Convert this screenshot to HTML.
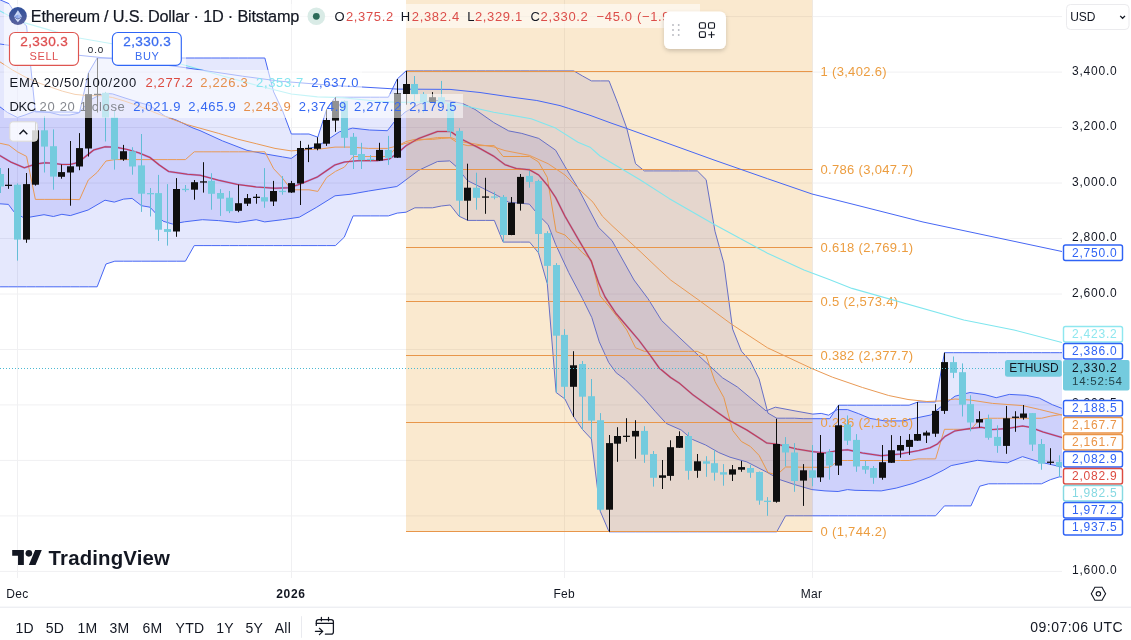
<!DOCTYPE html>
<html lang="en"><head><meta charset="utf-8"><title>ETHUSD chart</title>
<style>html,body{margin:0;padding:0;background:#fff;}svg{display:block;will-change:transform;}text{font-family:"Liberation Sans",sans-serif;}</style></head><body>
<svg width="1131" height="640" viewBox="0 0 1131 640">
<defs><clipPath id="plot"><rect x="0" y="0" width="1062" height="578"/></clipPath>
<filter id="sh" x="-20%" y="-20%" width="140%" height="160%"><feDropShadow dx="0" dy="2" stdDeviation="2" flood-color="#000" flood-opacity="0.18"/></filter>
<linearGradient id="ethg" x1="0" y1="0" x2="0" y2="1"><stop offset="0" stop-color="#2f4f99"/><stop offset="1" stop-color="#5a629e"/></linearGradient>
</defs>
<rect width="1131" height="640" fill="#fff"/>
<g stroke="#f0f0f2" stroke-width="1">
<line x1="0" y1="16.6" x2="1062" y2="16.6"/>
<line x1="0" y1="72.1" x2="1062" y2="72.1"/>
<line x1="0" y1="127.5" x2="1062" y2="127.5"/>
<line x1="0" y1="183" x2="1062" y2="183"/>
<line x1="0" y1="238.5" x2="1062" y2="238.5"/>
<line x1="0" y1="294" x2="1062" y2="294"/>
<line x1="0" y1="349.5" x2="1062" y2="349.5"/>
<line x1="0" y1="404.9" x2="1062" y2="404.9"/>
<line x1="0" y1="460.4" x2="1062" y2="460.4"/>
<line x1="0" y1="515.9" x2="1062" y2="515.9"/>
<line x1="0" y1="571.4" x2="1062" y2="571.4"/>
<line x1="17.5" y1="0" x2="17.5" y2="578"/>
<line x1="291.5" y1="0" x2="291.5" y2="578"/>
<line x1="564.5" y1="0" x2="564.5" y2="578"/>
<line x1="812.5" y1="0" x2="812.5" y2="578"/>
</g>
<g clip-path="url(#plot)">
<polygon points="-8.76,-4 0.07,-0.2 8.89,3.6 17.72,17 26.55,26 35.37,112 44.2,112 53.02,112 61.85,112 70.68,112 79.5,112.5 88.33,73.1 97.15,58 105.98,58 114.81,58 123.63,58 132.46,58 141.28,58 150.11,58 158.94,58 167.76,58 176.59,58 185.41,58 194.24,58 203.07,58 211.89,58 220.72,58 229.54,58 238.37,58 247.2,58 256.02,58 264.85,58 273.67,91.9 282.5,110.6 291.33,134 300.15,134 308.98,134 317.8,137.2 326.63,109.4 335.46,97.2 344.28,97.2 353.11,97.2 361.93,97.2 370.76,97.2 379.59,97.2 388.41,97.2 397.24,79 406.06,70.9 414.89,70.9 423.72,70.9 432.54,70.9 441.37,70.9 450.19,70.9 459.02,70.9 467.85,70.9 476.67,70.9 485.5,70.9 494.32,70.9 503.15,70.9 511.98,70.9 520.8,70.9 529.63,70.9 538.45,70.9 547.28,70.9 556.11,70.9 564.93,70.9 573.76,70.9 582.58,76 591.41,80.9 600.24,80.9 609.06,80.9 617.89,103.5 626.71,128.1 635.54,163.7 644.37,170.9 653.19,170.9 662.02,170.9 670.84,170.9 679.67,170.9 688.5,170.9 697.32,170.9 706.15,179.7 714.97,231.2 723.8,263.1 732.63,329.1 741.45,351.2 750.28,361 759.1,379 767.93,413.1 776.76,418.2 785.58,418.2 794.41,418.2 803.23,418.7 812.06,418.7 820.89,418.7 829.71,418.7 838.54,405.2 847.36,405.2 856.19,405.2 865.02,405.2 873.84,405.2 882.67,405.2 891.49,405.2 900.32,405.2 909.15,405.2 917.97,402 926.8,402 935.62,402 944.45,352.7 953.28,352.7 962.1,352.7 970.93,352.7 979.75,352.7 988.58,352.7 997.41,352.7 1006.23,352.7 1015.06,352.7 1023.88,352.7 1032.71,352.7 1041.54,352.7 1050.36,352.7 1059.19,352.7 1065,352.7 1065,476.9 1059.19,476.9 1050.36,479.7 1041.54,483.8 1032.71,483.8 1023.88,483.8 1015.06,483.8 1006.23,483.8 997.41,483.8 988.58,483.8 979.75,486.2 970.93,505.9 962.1,505.9 953.28,505.9 944.45,505.9 935.62,515.8 926.8,515.8 917.97,515.8 909.15,515.8 900.32,515.8 891.49,515.8 882.67,515.8 873.84,515.8 865.02,515.8 856.19,515.8 847.36,515.8 838.54,515.8 829.71,515.8 820.89,515.8 812.06,515.8 803.23,515.8 794.41,515.8 785.58,515.8 776.76,531.8 767.93,531.8 759.1,531.8 750.28,531.8 741.45,531.8 732.63,531.8 723.8,531.8 714.97,531.8 706.15,531.8 697.32,531.8 688.5,531.8 679.67,531.8 670.84,531.8 662.02,531.8 653.19,531.8 644.37,531.8 635.54,531.8 626.71,531.8 617.89,531.8 609.06,531.8 600.24,511.2 591.41,439 582.58,429.6 573.76,416.9 564.93,399 556.11,392.5 547.28,283.7 538.45,252.8 529.63,242.1 520.8,242.1 511.98,242.1 503.15,242.1 494.32,220.4 485.5,220.4 476.67,220.4 467.85,220.4 459.02,216.2 450.19,205 441.37,206 432.54,207.8 423.72,207.8 414.89,207.8 406.06,212.2 397.24,213.1 388.41,215.9 379.59,215.9 370.76,215.9 361.93,215.9 353.11,215.9 344.28,237.2 335.46,245.6 326.63,245.6 317.8,245.6 308.98,245.6 300.15,245.6 291.33,245.6 282.5,245.6 273.67,245.6 264.85,245.6 256.02,245.6 247.2,245.6 238.37,245.6 229.54,245.6 220.72,245.6 211.89,245.6 203.07,245.6 194.24,245.6 185.41,261.2 176.59,261.2 167.76,261.2 158.94,261.2 150.11,261.2 141.28,261.2 132.46,261.2 123.63,261.2 114.81,261.2 105.98,264 97.15,286.8 88.33,286.8 79.5,286.8 70.68,286.8 61.85,286.8 53.02,286.8 44.2,286.8 35.37,286.8 26.55,286.8 17.72,286.8 8.89,286.8 0.07,286.8 -8.76,286.8" fill="rgba(0,25,235,0.10)"/>
<polygon points="-5,104 0,106.9 7.5,112.5 17.5,117.5 25,115 35,111.2 50,112.5 60,115 70,115 78.7,113.1 83.7,107.5 90,100 97.5,96.2 105,93.4 112.5,93.9 125,98 141,103 150,105.5 165,116.2 176.2,120 193,128 200,130.6 222.5,140.9 246.9,150.3 265.6,154 282.5,156.9 291.3,158.4 297.5,154 307.8,148.4 317.2,146.6 329.3,138.6 339.4,131.8 352.5,128.1 369.4,130 387.4,130.7 394.9,121 402.4,114.6 405,112.2 420,103.7 431.2,100.4 450,100.9 463.1,103.7 475,109.4 493.7,122.5 508.7,130.9 521.8,133.4 538.7,138.4 555.6,150.2 565,166.5 578,188.1 598.7,227.5 612,240.6 634,280 648,298.7 661.6,320.5 678,336.2 698,355 722.5,377.8 737.4,387 766,410.9 775.3,407.2 795,410.9 812.8,414.1 821.2,413.4 828.7,415.2 837.2,409.6 847.5,409.6 858.7,413.7 870,418.4 885,420.9 902.8,420.9 908,419.7 930.6,415 940,407.5 955,396.2 970,392.5 985,394.7 996.2,397.7 1009.3,394.4 1026.2,395.3 1039.3,398.1 1052.4,404.7 1062,408.4 1062,467.1 1039.3,461.8 1022.5,456.6 1007.5,462.8 992.5,461.8 977.5,460.3 951.2,465.6 943.1,470.3 930,476.9 913.1,483.4 896.2,488.1 881.2,490.9 855,490.3 847.5,489.6 838.1,491.5 825,490.9 811.9,489.6 795,484.7 780,479.7 766.9,472.2 746.8,461.9 730,457.2 718.7,452.5 705.6,445 692.4,439.4 681.2,430 666.2,423.4 655,411.2 643.7,398.1 625,379.4 616.2,372.8 608.7,362.5 599.3,341.9 591.8,317.5 582.5,298.7 568.7,272.5 555.6,244.4 548.1,224.7 538.7,215.3 529.3,204.1 508.7,202.2 497.5,195.6 482.5,188.1 467.5,180.6 456.2,166.5 449.7,160.9 437.5,161.5 418.7,170.3 400,184.3 396.8,186.5 368.7,191 350,194.3 335,195.8 316.2,207.5 299.3,217.2 282.5,219.7 264.7,221.9 256.2,219.7 237.5,222.5 218.7,220.6 202.4,219.7 184.6,221.8 172.4,224 163.1,221.2 150,207.2 141.5,205.7 132.1,198.4 123.7,199.1 114.3,202.1 105,200.2 88.1,210 70.3,215.6 61.9,214.3 53.4,216.5 44,214.7 30,217.1 22.5,217.1 14,211.9 8.4,204.4 0,203.8 -5,203.5" fill="rgba(9,12,233,0.10)"/>
<polyline points="-8.76,-4 0.07,-0.2 8.89,3.6 17.72,17 26.55,26 35.37,112 44.2,112 53.02,112 61.85,112 70.68,112 79.5,112.5 88.33,73.1 97.15,58 105.98,58 114.81,58 123.63,58 132.46,58 141.28,58 150.11,58 158.94,58 167.76,58 176.59,58 185.41,58 194.24,58 203.07,58 211.89,58 220.72,58 229.54,58 238.37,58 247.2,58 256.02,58 264.85,58 273.67,91.9 282.5,110.6 291.33,134 300.15,134 308.98,134 317.8,137.2 326.63,109.4 335.46,97.2 344.28,97.2 353.11,97.2 361.93,97.2 370.76,97.2 379.59,97.2 388.41,97.2 397.24,79 406.06,70.9 414.89,70.9 423.72,70.9 432.54,70.9 441.37,70.9 450.19,70.9 459.02,70.9 467.85,70.9 476.67,70.9 485.5,70.9 494.32,70.9 503.15,70.9 511.98,70.9 520.8,70.9 529.63,70.9 538.45,70.9 547.28,70.9 556.11,70.9 564.93,70.9 573.76,70.9 582.58,76 591.41,80.9 600.24,80.9 609.06,80.9 617.89,103.5 626.71,128.1 635.54,163.7 644.37,170.9 653.19,170.9 662.02,170.9 670.84,170.9 679.67,170.9 688.5,170.9 697.32,170.9 706.15,179.7 714.97,231.2 723.8,263.1 732.63,329.1 741.45,351.2 750.28,361 759.1,379 767.93,413.1 776.76,418.2 785.58,418.2 794.41,418.2 803.23,418.7 812.06,418.7 820.89,418.7 829.71,418.7 838.54,405.2 847.36,405.2 856.19,405.2 865.02,405.2 873.84,405.2 882.67,405.2 891.49,405.2 900.32,405.2 909.15,405.2 917.97,402 926.8,402 935.62,402 944.45,352.7 953.28,352.7 962.1,352.7 970.93,352.7 979.75,352.7 988.58,352.7 997.41,352.7 1006.23,352.7 1015.06,352.7 1023.88,352.7 1032.71,352.7 1041.54,352.7 1050.36,352.7 1059.19,352.7 1065,352.7" fill="none" stroke="#4767f4" stroke-width="1.0" stroke-opacity="1.0" stroke-linejoin="round"/>
<polyline points="-8.76,286.8 0.07,286.8 8.89,286.8 17.72,286.8 26.55,286.8 35.37,286.8 44.2,286.8 53.02,286.8 61.85,286.8 70.68,286.8 79.5,286.8 88.33,286.8 97.15,286.8 105.98,264 114.81,261.2 123.63,261.2 132.46,261.2 141.28,261.2 150.11,261.2 158.94,261.2 167.76,261.2 176.59,261.2 185.41,261.2 194.24,245.6 203.07,245.6 211.89,245.6 220.72,245.6 229.54,245.6 238.37,245.6 247.2,245.6 256.02,245.6 264.85,245.6 273.67,245.6 282.5,245.6 291.33,245.6 300.15,245.6 308.98,245.6 317.8,245.6 326.63,245.6 335.46,245.6 344.28,237.2 353.11,215.9 361.93,215.9 370.76,215.9 379.59,215.9 388.41,215.9 397.24,213.1 406.06,212.2 414.89,207.8 423.72,207.8 432.54,207.8 441.37,206 450.19,205 459.02,216.2 467.85,220.4 476.67,220.4 485.5,220.4 494.32,220.4 503.15,242.1 511.98,242.1 520.8,242.1 529.63,242.1 538.45,252.8 547.28,283.7 556.11,392.5 564.93,399 573.76,416.9 582.58,429.6 591.41,439 600.24,511.2 609.06,531.8 617.89,531.8 626.71,531.8 635.54,531.8 644.37,531.8 653.19,531.8 662.02,531.8 670.84,531.8 679.67,531.8 688.5,531.8 697.32,531.8 706.15,531.8 714.97,531.8 723.8,531.8 732.63,531.8 741.45,531.8 750.28,531.8 759.1,531.8 767.93,531.8 776.76,531.8 785.58,515.8 794.41,515.8 803.23,515.8 812.06,515.8 820.89,515.8 829.71,515.8 838.54,515.8 847.36,515.8 856.19,515.8 865.02,515.8 873.84,515.8 882.67,515.8 891.49,515.8 900.32,515.8 909.15,515.8 917.97,515.8 926.8,515.8 935.62,515.8 944.45,505.9 953.28,505.9 962.1,505.9 970.93,505.9 979.75,486.2 988.58,483.8 997.41,483.8 1006.23,483.8 1015.06,483.8 1023.88,483.8 1032.71,483.8 1041.54,483.8 1050.36,479.7 1059.19,476.9 1065,476.9" fill="none" stroke="#4767f4" stroke-width="1.0" stroke-opacity="1.0" stroke-linejoin="round"/>
<polyline points="-5,104 0,106.9 7.5,112.5 17.5,117.5 25,115 35,111.2 50,112.5 60,115 70,115 78.7,113.1 83.7,107.5 90,100 97.5,96.2 105,93.4 112.5,93.9 125,98 141,103 150,105.5 165,116.2 176.2,120 193,128 200,130.6 222.5,140.9 246.9,150.3 265.6,154 282.5,156.9 291.3,158.4 297.5,154 307.8,148.4 317.2,146.6 329.3,138.6 339.4,131.8 352.5,128.1 369.4,130 387.4,130.7 394.9,121 402.4,114.6 405,112.2 420,103.7 431.2,100.4 450,100.9 463.1,103.7 475,109.4 493.7,122.5 508.7,130.9 521.8,133.4 538.7,138.4 555.6,150.2 565,166.5 578,188.1 598.7,227.5 612,240.6 634,280 648,298.7 661.6,320.5 678,336.2 698,355 722.5,377.8 737.4,387 766,410.9 775.3,407.2 795,410.9 812.8,414.1 821.2,413.4 828.7,415.2 837.2,409.6 847.5,409.6 858.7,413.7 870,418.4 885,420.9 902.8,420.9 908,419.7 930.6,415 940,407.5 955,396.2 970,392.5 985,394.7 996.2,397.7 1009.3,394.4 1026.2,395.3 1039.3,398.1 1052.4,404.7 1062,408.4" fill="none" stroke="#4767f4" stroke-width="1.0" stroke-opacity="1.0" stroke-linejoin="round"/>
<polyline points="-5,203.5 0,203.8 8.4,204.4 14,211.9 22.5,217.1 30,217.1 44,214.7 53.4,216.5 61.9,214.3 70.3,215.6 88.1,210 105,200.2 114.3,202.1 123.7,199.1 132.1,198.4 141.5,205.7 150,207.2 163.1,221.2 172.4,224 184.6,221.8 202.4,219.7 218.7,220.6 237.5,222.5 256.2,219.7 264.7,221.9 282.5,219.7 299.3,217.2 316.2,207.5 335,195.8 350,194.3 368.7,191 396.8,186.5 400,184.3 418.7,170.3 437.5,161.5 449.7,160.9 456.2,166.5 467.5,180.6 482.5,188.1 497.5,195.6 508.7,202.2 529.3,204.1 538.7,215.3 548.1,224.7 555.6,244.4 568.7,272.5 582.5,298.7 591.8,317.5 599.3,341.9 608.7,362.5 616.2,372.8 625,379.4 643.7,398.1 655,411.2 666.2,423.4 681.2,430 692.4,439.4 705.6,445 718.7,452.5 730,457.2 746.8,461.9 766.9,472.2 780,479.7 795,484.7 811.9,489.6 825,490.9 838.1,491.5 847.5,489.6 855,490.3 881.2,490.9 896.2,488.1 913.1,483.4 930,476.9 943.1,470.3 951.2,465.6 977.5,460.3 992.5,461.8 1007.5,462.8 1022.5,456.6 1039.3,461.8 1062,467.1" fill="none" stroke="#4767f4" stroke-width="1.0" stroke-opacity="1.0" stroke-linejoin="round"/>
<polyline points="-8.76,141.4 0.07,143.3 8.89,145.2 17.72,151.9 26.55,156.4 35.37,199.4 44.2,199.4 53.02,199.4 61.85,199.4 70.68,199.4 79.5,199.65 88.33,179.95 97.15,172.4 105.98,161 114.81,159.6 123.63,159.6 132.46,159.6 141.28,159.6 150.11,159.6 158.94,159.6 167.76,159.6 176.59,159.6 185.41,159.6 194.24,151.8 203.07,151.8 211.89,151.8 220.72,151.8 229.54,151.8 238.37,151.8 247.2,151.8 256.02,151.8 264.85,151.8 273.67,168.75 282.5,178.1 291.33,189.8 300.15,189.8 308.98,189.8 317.8,191.4 326.63,177.5 335.46,171.4 344.28,167.2 353.11,156.55 361.93,156.55 370.76,156.55 379.59,156.55 388.41,156.55 397.24,146.05 406.06,141.55 414.89,139.35 423.72,139.35 432.54,139.35 441.37,138.45 450.19,137.95 459.02,143.55 467.85,145.65 476.67,145.65 485.5,145.65 494.32,145.65 503.15,156.5 511.98,156.5 520.8,156.5 529.63,156.5 538.45,161.85 547.28,177.3 556.11,231.7 564.93,234.95 573.76,243.9 582.58,252.8 591.41,259.95 600.24,296.05 609.06,306.35 617.89,317.65 626.71,329.95 635.54,347.75 644.37,351.35 653.19,351.35 662.02,351.35 670.84,351.35 679.67,351.35 688.5,351.35 697.32,351.35 706.15,355.75 714.97,381.5 723.8,397.45 732.63,430.45 741.45,441.5 750.28,446.4 759.1,455.4 767.93,472.45 776.76,475 785.58,467 794.41,467 803.23,467.25 812.06,467.25 820.89,467.25 829.71,467.25 838.54,460.5 847.36,460.5 856.19,460.5 865.02,460.5 873.84,460.5 882.67,460.5 891.49,460.5 900.32,460.5 909.15,460.5 917.97,458.9 926.8,458.9 935.62,458.9 944.45,429.3 953.28,429.3 962.1,429.3 970.93,429.3 979.75,419.45 988.58,418.25 997.41,418.25 1006.23,418.25 1015.06,418.25 1023.88,418.25 1032.71,418.25 1041.54,418.25 1050.36,416.2 1059.19,414.8 1065,414.8" fill="none" stroke="#e99a56" stroke-width="1.0" stroke-opacity="1.0" stroke-linejoin="round"/>
<polyline points="-5,153 0,155.6 11.2,162.2 24.4,167.8 35.6,164 45,162.8 53,163.3 61.9,164.4 70,164.4 75,163.3 79.7,161.4 84.3,157.5 93.7,150 105,146.8 116.2,147.2 127.5,149.6 138.7,152.8 150,157.5 159.3,165 168.7,171.5 187.4,174.3 200,175.2 218.7,180.3 237.5,184.4 256.2,186.9 275,188.2 288.1,187.8 297.5,185 307.8,180.9 317.2,177.1 327.5,170 335,164.9 344.3,162.1 359.3,160.6 378.1,160.6 389.3,159.1 398.7,152.2 406.2,145.6 418.7,138.4 437.5,131.5 450.6,131.5 461.9,139.4 478.7,147.8 493.7,156.2 505,164.7 516.2,168.4 529.3,169.7 538.7,175 548.1,186.2 555.6,197.5 565,216.2 578,238.7 591.2,261.2 598.7,283 605,296.9 616.2,313.7 627.5,326.9 638.7,340 650,355 659.3,368.1 670.6,377.5 679.3,383.1 692.4,394.4 709.3,406.6 728,419.7 746.8,430 766.9,443.1 776.2,444 796.9,449.1 811.9,451.5 825,453 838.1,450.6 847.5,449.7 862.5,453 881.2,455.7 900,454 918.7,450.6 930,447.8 937.4,444 944.9,436.5 955,430.9 970,428.5 981.2,427.2 992.5,429.6 1007.5,428.5 1022.5,425.9 1030,427.2 1043,431.9 1062,437.5" fill="none" stroke="#7a50d0" stroke-width="1.9" stroke-opacity="0.5" stroke-linejoin="round"/>
<rect x="406" y="-5" width="406.4" height="536.5" fill="rgba(230,145,15,0.20)"/>
<g stroke="#e8964a" stroke-width="1">
<line x1="406" y1="71.5" x2="812.4" y2="71.5"/>
<line x1="406" y1="169.5" x2="812.4" y2="169.5"/>
<line x1="406" y1="247.5" x2="812.4" y2="247.5"/>
<line x1="406" y1="301.5" x2="812.4" y2="301.5"/>
<line x1="406" y1="355.5" x2="812.4" y2="355.5"/>
<line x1="406" y1="422.5" x2="812.4" y2="422.5"/>
<line x1="406" y1="531.5" x2="812.4" y2="531.5"/>
</g>
<g font-size="13" fill="#ec9d40" letter-spacing="0.32">
<text x="820.5" y="76.1">1 (3,402.6)</text>
<text x="820.5" y="174.1">0.786 (3,047.7)</text>
<text x="820.5" y="252.1">0.618 (2,769.1)</text>
<text x="820.5" y="306.1">0.5 (2,573.4)</text>
<text x="820.5" y="360.1">0.382 (2,377.7)</text>
<text x="820.5" y="427.1">0.236 (2,135.6)</text>
<text x="820.5" y="536.1">0 (1,744.2)</text>
</g>
<polyline points="-5,8.5 0,10.9 8,15.2 24,22.6 56,31.9 79,38 112,43.8 180.6,64 223.7,76.2 261.2,86.5 291.2,94 317.4,96.9 342,97.6 375,101 397.5,102.4 437.5,102 460,104.7 493.7,112.2 531.2,118.7 555.6,128.1 578,142.2 590,147.2 600,156 640,179.7 669,198.4 713,223.7 767.5,253.2 804,270 829.3,279.4 852,288.4 963.8,320 1014,330 1062,342.5" fill="none" stroke="#7fe6ee" stroke-width="1.1" stroke-opacity="1.0" stroke-linejoin="round"/>
<polyline points="-5,43.3 0,44 79,55.3 130,60.5 186.2,67.8 242.5,76.2 280,81.2 317.4,84.2 342,86 362,87 397.5,89.1 450,89.4 480,92.5 512,97.2 536.8,100.5 560,105.6 568.7,108.4 590,115.3 612,123.4 626.5,128.4 668,143.4 714,160 767.5,178.7 812,194 852,204 923,222 1062,251.5" fill="none" stroke="#4767f4" stroke-width="1.0" stroke-opacity="1.0" stroke-linejoin="round"/>
<polyline points="-5,58.5 0,61.9 12.5,70 25,76.9 37.5,82.5 50,86.9 62.5,91.2 75,94.4 87.5,95.6 100,95.6 112.5,97.5 125,101.2 141,106.9 159.3,114.4 187.4,124.7 200,128.2 218.7,133.4 237.5,139.1 256.2,143.7 275,148.4 291.3,150.9 305,149.7 320,149 335,147.1 350,147.1 368.7,148.4 387.4,148.4 398.7,145.6 405,143.5 418.7,140.3 437.5,137.5 450.6,137.5 463.7,142.2 493.7,146.9 505,150.6 529.3,155.3 548.1,163.7 565,175 580,190 593,202.2 602.4,216.2 612,225.6 640,251.3 659.7,270 670.6,280 700,301 731.8,324.4 767.5,347.8 811.8,368.5 832.5,377.2 862.5,387.5 888.7,395.5 908,399.5 926.9,401.5 941.9,400.9 955,399 970,400 992.5,403.4 1022.5,405.6 1039.3,409.4 1062,415" fill="none" stroke="#e99a56" stroke-width="1.0" stroke-opacity="1.0" stroke-linejoin="round"/>
<polyline points="-5,153 0,155.6 11.2,162.2 24.4,167.8 35.6,164 45,162.8 53,163.3 61.9,164.4 70,164.4 75,163.3 79.7,161.4 84.3,157.5 93.7,150 105,146.8 116.2,147.2 127.5,149.6 138.7,152.8 150,157.5 159.3,165 168.7,171.5 187.4,174.3 200,175.2 218.7,180.3 237.5,184.4 256.2,186.9 275,188.2 288.1,187.8 297.5,185 307.8,180.9 317.2,177.1 327.5,170 335,164.9 344.3,162.1 359.3,160.6 378.1,160.6 389.3,159.1 398.7,152.2 406.2,145.6 418.7,138.4 437.5,131.5 450.6,131.5 461.9,139.4 478.7,147.8 493.7,156.2 505,164.7 516.2,168.4 529.3,169.7 538.7,175 548.1,186.2 555.6,197.5 565,216.2 578,238.7 591.2,261.2 598.7,283 605,296.9 616.2,313.7 627.5,326.9 638.7,340 650,355 659.3,368.1 670.6,377.5 679.3,383.1 692.4,394.4 709.3,406.6 728,419.7 746.8,430 766.9,443.1 776.2,444 796.9,449.1 811.9,451.5 825,453 838.1,450.6 847.5,449.7 862.5,453 881.2,455.7 900,454 918.7,450.6 930,447.8 937.4,444 944.9,436.5 955,430.9 970,428.5 981.2,427.2 992.5,429.6 1007.5,428.5 1022.5,425.9 1030,427.2 1043,431.9 1062,437.5" fill="none" stroke="#c43a52" stroke-width="1.05" stroke-opacity="1.0" stroke-linejoin="round"/>
<g shape-rendering="auto">
<rect x="0" y="168" width="1" height="25" fill="#63bdd6"/>
<rect x="-3" y="174" width="7" height="12.5" fill="#74cbde"/>
<rect x="8" y="168.2" width="1" height="20.6" fill="#0f0f0f"/>
<rect x="5" y="184.7" width="7" height="1.3" fill="#0f0f0f"/>
<rect x="17" y="183.4" width="1" height="77.2" fill="#63bdd6"/>
<rect x="14" y="184.7" width="7" height="54.9" fill="#74cbde"/>
<rect x="26" y="173" width="1" height="69.8" fill="#0f0f0f"/>
<rect x="23" y="184.1" width="7" height="55.5" fill="#0f0f0f"/>
<rect x="35" y="122" width="1" height="63.6" fill="#0f0f0f"/>
<rect x="32" y="130.3" width="7" height="54.4" fill="#0f0f0f"/>
<rect x="44" y="116.2" width="1" height="56.3" fill="#63bdd6"/>
<rect x="41" y="130.3" width="7" height="16.3" fill="#74cbde"/>
<rect x="53" y="129.4" width="1" height="60.3" fill="#63bdd6"/>
<rect x="50" y="146.2" width="7" height="30.4" fill="#74cbde"/>
<rect x="61" y="164.6" width="1" height="14.1" fill="#0f0f0f"/>
<rect x="58" y="172.1" width="7" height="4.7" fill="#0f0f0f"/>
<rect x="70" y="141" width="1" height="64.7" fill="#0f0f0f"/>
<rect x="67" y="166.3" width="7" height="6.2" fill="#0f0f0f"/>
<rect x="79" y="133.1" width="1" height="37.1" fill="#0f0f0f"/>
<rect x="76" y="148.1" width="7" height="18.4" fill="#0f0f0f"/>
<rect x="88" y="73.1" width="1" height="83.4" fill="#0f0f0f"/>
<rect x="85" y="94.1" width="7" height="54.4" fill="#0f0f0f"/>
<rect x="97" y="58" width="1" height="54.5" fill="#0f0f0f"/>
<rect x="94" y="93.8" width="7" height="1.3" fill="#0f0f0f"/>
<rect x="105" y="91.9" width="1" height="49.6" fill="#63bdd6"/>
<rect x="102" y="92.8" width="7" height="24.7" fill="#74cbde"/>
<rect x="114" y="110.6" width="1" height="59" fill="#63bdd6"/>
<rect x="111" y="117.5" width="7" height="42" fill="#74cbde"/>
<rect x="123" y="144.9" width="1" height="15.9" fill="#0f0f0f"/>
<rect x="120" y="151.2" width="7" height="8.3" fill="#0f0f0f"/>
<rect x="132" y="147.2" width="1" height="27.5" fill="#63bdd6"/>
<rect x="129" y="151.3" width="7" height="15.2" fill="#74cbde"/>
<rect x="141" y="134" width="1" height="77.9" fill="#63bdd6"/>
<rect x="138" y="165.4" width="7" height="28.3" fill="#74cbde"/>
<rect x="150" y="188" width="1" height="28.5" fill="#63bdd6"/>
<rect x="147" y="193" width="7" height="1.3" fill="#74cbde"/>
<rect x="158" y="174.9" width="1" height="66" fill="#63bdd6"/>
<rect x="155" y="193.1" width="7" height="36.6" fill="#74cbde"/>
<rect x="167" y="184.1" width="1" height="61.5" fill="#63bdd6"/>
<rect x="164" y="229.1" width="7" height="2.8" fill="#74cbde"/>
<rect x="176" y="178.1" width="1" height="58.7" fill="#0f0f0f"/>
<rect x="173" y="189" width="7" height="42.5" fill="#0f0f0f"/>
<rect x="185" y="185" width="1" height="6.8" fill="#63bdd6"/>
<rect x="182" y="188.8" width="7" height="1.3" fill="#74cbde"/>
<rect x="194" y="180" width="1" height="19.7" fill="#0f0f0f"/>
<rect x="191" y="182.2" width="7" height="7.5" fill="#0f0f0f"/>
<rect x="203" y="162.2" width="1" height="30.4" fill="#0f0f0f"/>
<rect x="200" y="181.3" width="7" height="1.3" fill="#0f0f0f"/>
<rect x="211" y="173.2" width="1" height="36.5" fill="#63bdd6"/>
<rect x="208" y="180.9" width="7" height="12.9" fill="#74cbde"/>
<rect x="220" y="189.1" width="1" height="26.8" fill="#63bdd6"/>
<rect x="217" y="193" width="7" height="5.7" fill="#74cbde"/>
<rect x="229" y="191" width="1" height="22.1" fill="#63bdd6"/>
<rect x="226" y="197.7" width="7" height="13.5" fill="#74cbde"/>
<rect x="238" y="184.6" width="1" height="27.6" fill="#0f0f0f"/>
<rect x="235" y="203.2" width="7" height="7.6" fill="#0f0f0f"/>
<rect x="247" y="194" width="1" height="12" fill="#0f0f0f"/>
<rect x="244" y="198.1" width="7" height="5.6" fill="#0f0f0f"/>
<rect x="256" y="194" width="1" height="9.7" fill="#0f0f0f"/>
<rect x="253" y="196.7" width="7" height="1.3" fill="#0f0f0f"/>
<rect x="264" y="168.1" width="1" height="39.7" fill="#63bdd6"/>
<rect x="261" y="197.2" width="7" height="4.3" fill="#74cbde"/>
<rect x="273" y="180.9" width="1" height="25.1" fill="#0f0f0f"/>
<rect x="270" y="191" width="7" height="10.5" fill="#0f0f0f"/>
<rect x="282" y="176" width="1" height="18.7" fill="#63bdd6"/>
<rect x="279" y="190.8" width="7" height="1.3" fill="#74cbde"/>
<rect x="291" y="180.9" width="1" height="12" fill="#0f0f0f"/>
<rect x="288" y="183.1" width="7" height="9.4" fill="#0f0f0f"/>
<rect x="300" y="140.9" width="1" height="64.1" fill="#0f0f0f"/>
<rect x="297" y="148" width="7" height="35.5" fill="#0f0f0f"/>
<rect x="308" y="144.7" width="1" height="17.4" fill="#0f0f0f"/>
<rect x="305" y="147.9" width="7" height="1.3" fill="#0f0f0f"/>
<rect x="317" y="137.2" width="1" height="13.1" fill="#0f0f0f"/>
<rect x="314" y="143.4" width="7" height="5.4" fill="#0f0f0f"/>
<rect x="326" y="109.4" width="1" height="36.5" fill="#0f0f0f"/>
<rect x="323" y="120" width="7" height="23.7" fill="#0f0f0f"/>
<rect x="335" y="97.2" width="1" height="34.6" fill="#0f0f0f"/>
<rect x="332" y="100.9" width="7" height="19.7" fill="#0f0f0f"/>
<rect x="344" y="100.5" width="1" height="47.3" fill="#63bdd6"/>
<rect x="341" y="100.9" width="7" height="36.9" fill="#74cbde"/>
<rect x="353" y="133" width="1" height="36" fill="#63bdd6"/>
<rect x="350" y="136.8" width="7" height="18.2" fill="#74cbde"/>
<rect x="361" y="142.8" width="1" height="26.2" fill="#63bdd6"/>
<rect x="358" y="154" width="7" height="6.2" fill="#74cbde"/>
<rect x="370" y="155" width="1" height="7.1" fill="#63bdd6"/>
<rect x="367" y="158.8" width="7" height="1.3" fill="#74cbde"/>
<rect x="379" y="142.8" width="1" height="18.2" fill="#0f0f0f"/>
<rect x="376" y="149.9" width="7" height="10.7" fill="#0f0f0f"/>
<rect x="388" y="135.9" width="1" height="29" fill="#63bdd6"/>
<rect x="385" y="149.9" width="7" height="7.9" fill="#74cbde"/>
<rect x="397" y="79" width="1" height="78.9" fill="#0f0f0f"/>
<rect x="394" y="93.4" width="7" height="64.3" fill="#0f0f0f"/>
<rect x="406" y="70.9" width="1" height="33.8" fill="#0f0f0f"/>
<rect x="403" y="84" width="7" height="10" fill="#0f0f0f"/>
<rect x="414" y="76" width="1" height="24.9" fill="#63bdd6"/>
<rect x="411" y="84" width="7" height="10.4" fill="#74cbde"/>
<rect x="423" y="92.1" width="1" height="20.6" fill="#63bdd6"/>
<rect x="420" y="94" width="7" height="8.2" fill="#74cbde"/>
<rect x="432" y="92.1" width="1" height="10.4" fill="#0f0f0f"/>
<rect x="429" y="97.2" width="7" height="5" fill="#0f0f0f"/>
<rect x="441" y="80.9" width="1" height="25.1" fill="#63bdd6"/>
<rect x="438" y="97.2" width="7" height="6.5" fill="#74cbde"/>
<rect x="450" y="103.5" width="1" height="33.3" fill="#63bdd6"/>
<rect x="447" y="103.7" width="7" height="27.9" fill="#74cbde"/>
<rect x="459" y="128.1" width="1" height="88.1" fill="#63bdd6"/>
<rect x="456" y="130.9" width="7" height="69.8" fill="#74cbde"/>
<rect x="467" y="163.7" width="1" height="56.7" fill="#0f0f0f"/>
<rect x="464" y="187.7" width="7" height="13" fill="#0f0f0f"/>
<rect x="476" y="172.7" width="1" height="37" fill="#63bdd6"/>
<rect x="473" y="187.7" width="7" height="10.1" fill="#74cbde"/>
<rect x="485" y="177.8" width="1" height="36" fill="#0f0f0f"/>
<rect x="482" y="196.4" width="7" height="1.3" fill="#0f0f0f"/>
<rect x="494" y="191.8" width="1" height="7.5" fill="#63bdd6"/>
<rect x="491" y="196.4" width="7" height="1.3" fill="#74cbde"/>
<rect x="503" y="195" width="1" height="47.1" fill="#63bdd6"/>
<rect x="500" y="196.9" width="7" height="38.1" fill="#74cbde"/>
<rect x="511" y="197" width="1" height="38.2" fill="#0f0f0f"/>
<rect x="508" y="202.7" width="7" height="32.3" fill="#0f0f0f"/>
<rect x="520" y="174" width="1" height="36.6" fill="#0f0f0f"/>
<rect x="517" y="176.9" width="7" height="26.8" fill="#0f0f0f"/>
<rect x="529" y="170.9" width="1" height="16.8" fill="#63bdd6"/>
<rect x="526" y="175.9" width="7" height="6" fill="#74cbde"/>
<rect x="538" y="179.7" width="1" height="73.1" fill="#63bdd6"/>
<rect x="535" y="181" width="7" height="53" fill="#74cbde"/>
<rect x="547" y="231.2" width="1" height="52.5" fill="#63bdd6"/>
<rect x="544" y="233.1" width="7" height="32.8" fill="#74cbde"/>
<rect x="556" y="263.1" width="1" height="129.4" fill="#63bdd6"/>
<rect x="553" y="265" width="7" height="70.7" fill="#74cbde"/>
<rect x="564" y="329.1" width="1" height="69.9" fill="#63bdd6"/>
<rect x="561" y="334.9" width="7" height="51.9" fill="#74cbde"/>
<rect x="573" y="351.2" width="1" height="65.7" fill="#0f0f0f"/>
<rect x="570" y="365.3" width="7" height="21.5" fill="#0f0f0f"/>
<rect x="582" y="361" width="1" height="68.6" fill="#63bdd6"/>
<rect x="579" y="364" width="7" height="32.7" fill="#74cbde"/>
<rect x="591" y="379" width="1" height="60" fill="#63bdd6"/>
<rect x="588" y="396.2" width="7" height="24.4" fill="#74cbde"/>
<rect x="600" y="413.1" width="1" height="98.1" fill="#63bdd6"/>
<rect x="597" y="420.2" width="7" height="89.5" fill="#74cbde"/>
<rect x="609" y="435" width="1" height="96.8" fill="#0f0f0f"/>
<rect x="606" y="443.1" width="7" height="66.6" fill="#0f0f0f"/>
<rect x="617" y="427.2" width="1" height="34.6" fill="#0f0f0f"/>
<rect x="614" y="436" width="7" height="7.7" fill="#0f0f0f"/>
<rect x="626" y="418.2" width="1" height="23.6" fill="#0f0f0f"/>
<rect x="623" y="435.7" width="7" height="1.3" fill="#0f0f0f"/>
<rect x="635" y="420.2" width="1" height="38.5" fill="#0f0f0f"/>
<rect x="632" y="430.9" width="7" height="5.6" fill="#0f0f0f"/>
<rect x="644" y="426.2" width="1" height="36.6" fill="#63bdd6"/>
<rect x="641" y="430.9" width="7" height="23.8" fill="#74cbde"/>
<rect x="653" y="451" width="1" height="35.6" fill="#63bdd6"/>
<rect x="650" y="454" width="7" height="23.8" fill="#74cbde"/>
<rect x="662" y="460" width="1" height="29" fill="#0f0f0f"/>
<rect x="659" y="475.3" width="7" height="2.5" fill="#0f0f0f"/>
<rect x="670" y="440.3" width="1" height="40.3" fill="#0f0f0f"/>
<rect x="667" y="447.2" width="7" height="28.7" fill="#0f0f0f"/>
<rect x="679" y="431.3" width="1" height="16.7" fill="#0f0f0f"/>
<rect x="676" y="436" width="7" height="11.8" fill="#0f0f0f"/>
<rect x="688" y="432.2" width="1" height="47.5" fill="#63bdd6"/>
<rect x="685" y="436" width="7" height="34.8" fill="#74cbde"/>
<rect x="697" y="454" width="1" height="23.8" fill="#0f0f0f"/>
<rect x="694" y="461.3" width="7" height="9.5" fill="#0f0f0f"/>
<rect x="706" y="456.2" width="1" height="20.6" fill="#63bdd6"/>
<rect x="703" y="461.3" width="7" height="2.4" fill="#74cbde"/>
<rect x="714" y="450.2" width="1" height="30.4" fill="#63bdd6"/>
<rect x="711" y="463.2" width="7" height="9.5" fill="#74cbde"/>
<rect x="723" y="464.1" width="1" height="21.6" fill="#63bdd6"/>
<rect x="720" y="472.2" width="7" height="2.4" fill="#74cbde"/>
<rect x="732" y="465" width="1" height="16" fill="#0f0f0f"/>
<rect x="729" y="469.3" width="7" height="5.3" fill="#0f0f0f"/>
<rect x="741" y="460.9" width="1" height="10.9" fill="#0f0f0f"/>
<rect x="738" y="467.1" width="7" height="2.6" fill="#0f0f0f"/>
<rect x="750" y="465" width="1" height="12.8" fill="#63bdd6"/>
<rect x="747" y="468" width="7" height="4.7" fill="#74cbde"/>
<rect x="759" y="471.5" width="1" height="33.2" fill="#63bdd6"/>
<rect x="756" y="472" width="7" height="28.6" fill="#74cbde"/>
<rect x="767" y="497.1" width="1" height="18.7" fill="#63bdd6"/>
<rect x="764" y="500.7" width="7" height="1.3" fill="#74cbde"/>
<rect x="776" y="418.7" width="1" height="84" fill="#0f0f0f"/>
<rect x="773" y="444" width="7" height="57.8" fill="#0f0f0f"/>
<rect x="785" y="437.1" width="1" height="29.4" fill="#63bdd6"/>
<rect x="782" y="444" width="7" height="8.5" fill="#74cbde"/>
<rect x="794" y="443.1" width="1" height="48.7" fill="#63bdd6"/>
<rect x="791" y="452.5" width="7" height="28.5" fill="#74cbde"/>
<rect x="803" y="464.1" width="1" height="41.8" fill="#0f0f0f"/>
<rect x="800" y="470.3" width="7" height="10.3" fill="#0f0f0f"/>
<rect x="812" y="445" width="1" height="41.2" fill="#63bdd6"/>
<rect x="809" y="470.3" width="7" height="7.5" fill="#74cbde"/>
<rect x="820" y="435" width="1" height="46.9" fill="#0f0f0f"/>
<rect x="817" y="453" width="7" height="24.4" fill="#0f0f0f"/>
<rect x="829" y="449.1" width="1" height="30.6" fill="#63bdd6"/>
<rect x="826" y="452.1" width="7" height="13.5" fill="#74cbde"/>
<rect x="838" y="405.2" width="1" height="69.8" fill="#0f0f0f"/>
<rect x="835" y="425.3" width="7" height="40.3" fill="#0f0f0f"/>
<rect x="847" y="415.4" width="1" height="29.6" fill="#63bdd6"/>
<rect x="844" y="424.4" width="7" height="16.3" fill="#74cbde"/>
<rect x="856" y="434.1" width="1" height="37.7" fill="#63bdd6"/>
<rect x="853" y="439.9" width="7" height="26.6" fill="#74cbde"/>
<rect x="865" y="460.9" width="1" height="12.8" fill="#63bdd6"/>
<rect x="862" y="466" width="7" height="3.7" fill="#74cbde"/>
<rect x="873" y="466" width="1" height="17.8" fill="#63bdd6"/>
<rect x="870" y="468" width="7" height="9.8" fill="#74cbde"/>
<rect x="882" y="445" width="1" height="34.7" fill="#0f0f0f"/>
<rect x="879" y="462.2" width="7" height="15.6" fill="#0f0f0f"/>
<rect x="891" y="435.1" width="1" height="27.9" fill="#0f0f0f"/>
<rect x="888" y="450.2" width="7" height="12.6" fill="#0f0f0f"/>
<rect x="900" y="436" width="1" height="21.7" fill="#0f0f0f"/>
<rect x="897" y="445" width="7" height="5.6" fill="#0f0f0f"/>
<rect x="909" y="434.1" width="1" height="20.8" fill="#0f0f0f"/>
<rect x="906" y="439.9" width="7" height="7" fill="#0f0f0f"/>
<rect x="917" y="402" width="1" height="39" fill="#0f0f0f"/>
<rect x="914" y="434" width="7" height="6.7" fill="#0f0f0f"/>
<rect x="926" y="430.7" width="1" height="12.3" fill="#0f0f0f"/>
<rect x="923" y="432.5" width="7" height="3.1" fill="#0f0f0f"/>
<rect x="935" y="404.2" width="1" height="32.7" fill="#0f0f0f"/>
<rect x="932" y="410.9" width="7" height="22.8" fill="#0f0f0f"/>
<rect x="944" y="352.7" width="1" height="61.2" fill="#0f0f0f"/>
<rect x="941" y="362.1" width="7" height="48.8" fill="#0f0f0f"/>
<rect x="953" y="356.5" width="1" height="21.6" fill="#63bdd6"/>
<rect x="950" y="362.1" width="7" height="10.7" fill="#74cbde"/>
<rect x="962" y="363.4" width="1" height="53.1" fill="#63bdd6"/>
<rect x="959" y="372.2" width="7" height="32.5" fill="#74cbde"/>
<rect x="970" y="395.3" width="1" height="36" fill="#63bdd6"/>
<rect x="967" y="404.1" width="7" height="18.4" fill="#74cbde"/>
<rect x="979" y="411.2" width="1" height="16.3" fill="#0f0f0f"/>
<rect x="976" y="419.1" width="7" height="3.4" fill="#0f0f0f"/>
<rect x="988" y="414.6" width="1" height="25.1" fill="#63bdd6"/>
<rect x="985" y="419.1" width="7" height="18.7" fill="#74cbde"/>
<rect x="997" y="425.3" width="1" height="27.5" fill="#63bdd6"/>
<rect x="994" y="436.9" width="7" height="9" fill="#74cbde"/>
<rect x="1006" y="406" width="1" height="47.8" fill="#0f0f0f"/>
<rect x="1003" y="418.3" width="7" height="27.6" fill="#0f0f0f"/>
<rect x="1015" y="411.2" width="1" height="20.6" fill="#0f0f0f"/>
<rect x="1012" y="416.6" width="7" height="1.3" fill="#0f0f0f"/>
<rect x="1023" y="405" width="1" height="14.7" fill="#0f0f0f"/>
<rect x="1020" y="413.5" width="7" height="4.3" fill="#0f0f0f"/>
<rect x="1032" y="413" width="1" height="38" fill="#63bdd6"/>
<rect x="1029" y="413.1" width="7" height="31.5" fill="#74cbde"/>
<rect x="1041" y="439" width="1" height="30.7" fill="#63bdd6"/>
<rect x="1038" y="444" width="7" height="19.7" fill="#74cbde"/>
<rect x="1050" y="448.2" width="1" height="16.5" fill="#0f0f0f"/>
<rect x="1047" y="461.6" width="7" height="1.3" fill="#0f0f0f"/>
<rect x="1059" y="455.3" width="1" height="21.6" fill="#63bdd6"/>
<rect x="1056" y="461.9" width="7" height="4.6" fill="#74cbde"/>
</g>
<line x1="0" y1="368.5" x2="1062" y2="368.5" stroke="#4bb9d2" stroke-width="1" stroke-dasharray="1 2"/>
</g>
<g transform="translate(12.2,546.67) scale(0.8333)" fill="#131722"><path d="M14 22H7V11H0V4h14v18zM28 22h-8l7.5-18h8L28 22z"/><circle cx="20" cy="8" r="4"/></g>
<text x="48.6" y="565" font-size="20.4" font-weight="700" fill="#131722" letter-spacing="0.16">TradingView</text>
<rect x="4" y="4" width="696" height="24" fill="#fff" fill-opacity="0.55"/>
<rect x="4" y="70" width="358" height="24" fill="#fff" fill-opacity="0.55"/>
<rect x="4" y="94" width="459" height="24" fill="#fff" fill-opacity="0.55"/>
<rect x="4" y="28" width="182" height="42" fill="#fff" fill-opacity="0.55"/>
<circle cx="17.9" cy="16" r="8.9" fill="url(#ethg)"/>
<g transform="translate(17.9,16.2)"><polygon points="0,-5.9 -4,0.2 0,2.4 4,0.2" fill="#cfdcf7"/><polygon points="0,-1.6 -4,0.2 0,2.4 4,0.2" fill="#8aa6ea"/><polygon points="0,-5.9 0,2.4 4,0.2" fill="#b4c6f2" fill-opacity="0.55"/><polygon points="-4,1.1 0,3.4 4,1.1 0,6" fill="#d5e0f8"/></g>
<text x="30.8" y="21.7" font-size="16.3" fill="#131722" stroke="#131722" stroke-width="0.2" letter-spacing="-0.2">Ethereum / U.S. Dollar · 1D · Bitstamp</text>
<circle cx="316.3" cy="16.3" r="8.8" fill="#d9ebe6"/>
<circle cx="316.3" cy="16.3" r="3.4" fill="#2c6a58"/>
<g font-size="13" letter-spacing="0.66">
<text x="334.6" y="21.3" fill="#131722">O</text>
<text x="345.9" y="21.3" fill="#dc4e4a">2,375.2</text>
<text x="400.8" y="21.3" fill="#131722">H</text>
<text x="411.8" y="21.3" fill="#dc4e4a">2,382.4</text>
<text x="467.2" y="21.3" fill="#131722">L</text>
<text x="474.9" y="21.3" fill="#dc4e4a">2,329.1</text>
<text x="530.4" y="21.3" fill="#131722">C</text>
<text x="540.5" y="21.3" fill="#dc4e4a">2,330.2</text>
<text x="596.5" y="21.3" fill="#dc4e4a">−45.0 (−1.91%)</text>
</g>
<rect x="9.5" y="32.5" width="69" height="32.9" rx="5.5" fill="#fff" stroke="#de5550" stroke-width="1.15"/>
<text x="44.2" y="46.3" font-size="13.6" stroke="#de4f50" stroke-width="0.28" fill="#de4f50" text-anchor="middle" letter-spacing="0.35">2,330.3</text>
<text x="44.2" y="60" font-size="11" fill="#de4f50" text-anchor="middle" letter-spacing="0.6">SELL</text>
<rect x="112.4" y="32.5" width="68.9" height="32.9" rx="5.5" fill="#fff" stroke="#2f66f6" stroke-width="1.15"/>
<text x="147.2" y="46.3" font-size="13.6" stroke="#3a6cf0" stroke-width="0.28" fill="#3a6cf0" text-anchor="middle" letter-spacing="0.35">2,330.3</text>
<text x="147.2" y="60" font-size="11" fill="#3a6cf0" text-anchor="middle" letter-spacing="0.6">BUY</text>
<text x="96" y="52.8" font-size="9.8" fill="#131722" text-anchor="middle" letter-spacing="0.9">0.0</text>
<g font-size="13" letter-spacing="0.66">
<text x="9.5" y="87" fill="#131722" letter-spacing="0.78">EMA 20/50/100/200</text>
<text x="145.4" y="87" fill="#dc4b41">2,277.2</text>
<text x="200.3" y="87" fill="#e58f4c">2,226.3</text>
<text x="256" y="87" fill="#86e5ef">2,353.7</text>
<text x="311.2" y="87" fill="#3568f2">2,637.0</text>
<text x="9.5" y="111" fill="#131722" letter-spacing="-0.35">DKC</text>
<text x="39.6" y="111" fill="#85888f" letter-spacing="0.66">20 20 1 close</text>
<text x="133.2" y="111" fill="#3568f2">2,021.9</text>
<text x="188.3" y="111" fill="#3568f2">2,465.9</text>
<text x="243.4" y="111" fill="#e58f4c">2,243.9</text>
<text x="298.8" y="111" fill="#3568f2">2,374.9</text>
<text x="354" y="111" fill="#3568f2">2,277.2</text>
<text x="409.2" y="111" fill="#3568f2">2,179.5</text>
</g>
<rect x="9.8" y="121.8" width="27.6" height="19.4" rx="3" fill="#fff" fill-opacity="0.82" stroke="#dedcd6" stroke-width="1"/>
<polyline points="19.5,134.3 23.4,130.2 27.3,134.3" fill="none" stroke="#131722" stroke-width="1.4"/>
<rect x="664" y="11.5" width="62" height="37.5" rx="6" fill="#fff" filter="url(#sh)"/>
<g fill="#b0b2ba">
<rect x="672.2" y="24.2" width="1.6" height="1.6"/>
<rect x="672.2" y="29.2" width="1.6" height="1.6"/>
<rect x="672.2" y="34.2" width="1.6" height="1.6"/>
<rect x="677.9" y="24.2" width="1.6" height="1.6"/>
<rect x="677.9" y="29.2" width="1.6" height="1.6"/>
<rect x="677.9" y="34.2" width="1.6" height="1.6"/>
</g>
<g fill="none" stroke="#131722" stroke-width="1.1"><rect x="699.4" y="22.7" width="6" height="5.6" rx="1.3"/><rect x="708.5" y="22.7" width="6" height="5.6" rx="1.3"/><rect x="699.4" y="31.8" width="6" height="5.6" rx="1.3"/><path d="M711.5 31.5v6.4M708.3 34.7h6.4"/></g>
<rect x="1062" y="0" width="69" height="607" fill="#fff"/>
<g font-size="12" fill="#131722" letter-spacing="0.78">
<text x="1072" y="74.9">3,400.0</text>
<text x="1072" y="130.3">3,200.0</text>
<text x="1072" y="185.8">3,000.0</text>
<text x="1072" y="241.3">2,800.0</text>
<text x="1072" y="296.8">2,600.0</text>
<text x="1072" y="574.2">1,600.0</text>
</g>
<rect x="1066.5" y="4.5" width="62.5" height="25" rx="4" fill="#fff" stroke="#ebebee" stroke-width="1"/>
<text x="1070.2" y="21.2" font-size="12" fill="#131722" letter-spacing="-0.1">USD</text>
<polyline points="1120.2,15.9 1122.6,18.3 1125,15.9" fill="none" stroke="#131722" stroke-width="1.3"/>
<text x="1072" y="407.2" font-size="12" fill="#131722" letter-spacing="0.78">2,203.5</text>
<rect x="1063.5" y="245.05" width="59" height="15.5" rx="2" fill="#fff" stroke="#2f63f5" stroke-width="1.45"/>
<text x="1072" y="256.8" font-size="12" fill="#2f63f5" letter-spacing="0.78">2,750.0</text>
<rect x="1063.5" y="326.55" width="59" height="15.5" rx="2" fill="#fff" stroke="#8ee7ef" stroke-width="1.45"/>
<text x="1072" y="338.3" font-size="12" fill="#8ee7ef" letter-spacing="0.78">2,423.2</text>
<rect x="1063.5" y="343.55" width="59" height="15.5" rx="2" fill="#fff" stroke="#2f63f5" stroke-width="1.45"/>
<text x="1072" y="355.3" font-size="12" fill="#2f63f5" letter-spacing="0.78">2,386.0</text>
<rect x="1063.5" y="400.5" width="59" height="15.5" rx="2" fill="#fff" stroke="#2f63f5" stroke-width="1.45"/>
<text x="1072" y="412.25" font-size="12" fill="#2f63f5" letter-spacing="0.78">2,188.5</text>
<rect x="1063.5" y="417.5" width="59" height="15.5" rx="2" fill="#fff" stroke="#ea9447" stroke-width="1.45"/>
<text x="1072" y="429.25" font-size="12" fill="#ea9447" letter-spacing="0.78">2,167.7</text>
<rect x="1063.5" y="434.5" width="59" height="15.5" rx="2" fill="#fff" stroke="#ea9447" stroke-width="1.45"/>
<text x="1072" y="446.25" font-size="12" fill="#ea9447" letter-spacing="0.78">2,161.7</text>
<rect x="1063.5" y="451.5" width="59" height="15.5" rx="2" fill="#fff" stroke="#2f63f5" stroke-width="1.45"/>
<text x="1072" y="463.25" font-size="12" fill="#2f63f5" letter-spacing="0.78">2,082.9</text>
<rect x="1063.5" y="468.5" width="59" height="15.5" rx="2" fill="#fff" stroke="#dc4b41" stroke-width="1.45"/>
<text x="1072" y="480.25" font-size="12" fill="#dc4b41" letter-spacing="0.78">2,082.9</text>
<rect x="1063.5" y="485.5" width="59" height="15.5" rx="2" fill="#fff" stroke="#86d9e2" stroke-width="1.45"/>
<text x="1072" y="497.25" font-size="12" fill="#86d9e2" letter-spacing="0.78">1,982.5</text>
<rect x="1063.5" y="502.5" width="59" height="15.5" rx="2" fill="#fff" stroke="#2f63f5" stroke-width="1.45"/>
<text x="1072" y="514.25" font-size="12" fill="#2f63f5" letter-spacing="0.78">1,977.2</text>
<rect x="1063.5" y="519.5" width="59" height="15.5" rx="2" fill="#fff" stroke="#2f63f5" stroke-width="1.45"/>
<text x="1072" y="531.25" font-size="12" fill="#2f63f5" letter-spacing="0.78">1,937.5</text>
<rect x="1063" y="360" width="66.5" height="30.5" rx="2" fill="#74cbde"/>
<text x="1072" y="372" font-size="12" fill="#131722" letter-spacing="0.78">2,330.2</text>
<text x="1072" y="385.4" font-size="11.5" fill="#24444c" letter-spacing="0.75">14:52:54</text>
<rect x="1005" y="360" width="56.8" height="16.8" rx="2.5" fill="#74cbde"/>
<text x="1009.3" y="372.2" font-size="12" fill="#131722" letter-spacing="0">ETHUSD</text>
<g font-size="12" fill="#131722" text-anchor="middle" letter-spacing="0.3">
<text x="17.4" y="597.6">Dec</text>
<text x="291" y="597.6" font-weight="700" letter-spacing="0.7">2026</text>
<text x="564.2" y="597.6">Feb</text>
<text x="811.5" y="597.6">Mar</text>
</g>
<g fill="none" stroke="#131722" stroke-width="1.1"><polygon points="1091.3,593.8 1094.9,587.3 1102,587.3 1105.6,593.8 1102,600.3 1094.9,600.3"/><circle cx="1098.4" cy="593.8" r="2.2"/></g>
<line x1="0" y1="607.2" x2="1131" y2="607.2" stroke="#e6e8ee" stroke-width="1"/>
<g font-size="14" fill="#131722" letter-spacing="0.2">
<text x="15.4" y="632.8">1D</text>
<text x="45.8" y="632.8">5D</text>
<text x="77.6" y="632.8">1M</text>
<text x="109.6" y="632.8">3M</text>
<text x="142.4" y="632.8">6M</text>
<text x="175.6" y="632.8">YTD</text>
<text x="216.2" y="632.8">1Y</text>
<text x="245.6" y="632.8">5Y</text>
<text x="274.8" y="632.8">All</text>
</g>
<line x1="301.5" y1="616.2" x2="301.5" y2="637.8" stroke="#e9eaef" stroke-width="1"/>
<g fill="none" stroke="#131722" stroke-width="1.25" stroke-linecap="round" stroke-linejoin="round"><path d="M316.3 625.4V621.7a2.2 2.2 0 0 1 2.2-2.2H331.2a2.2 2.2 0 0 1 2.2 2.2V632a2.2 2.2 0 0 1-2.2 2.2H325.4"/><path d="M321.4 617.4v3.4M328.5 617.4v3.4M316.3 623.4H333.4"/><path d="M315.4 631.35h7.2M319.4 628.3l3.4 3.05-3.4 3.25"/></g>
<text x="1030.3" y="631.9" font-size="14" fill="#131722" letter-spacing="0.48">09:07:06 UTC</text>
</svg></body></html>
